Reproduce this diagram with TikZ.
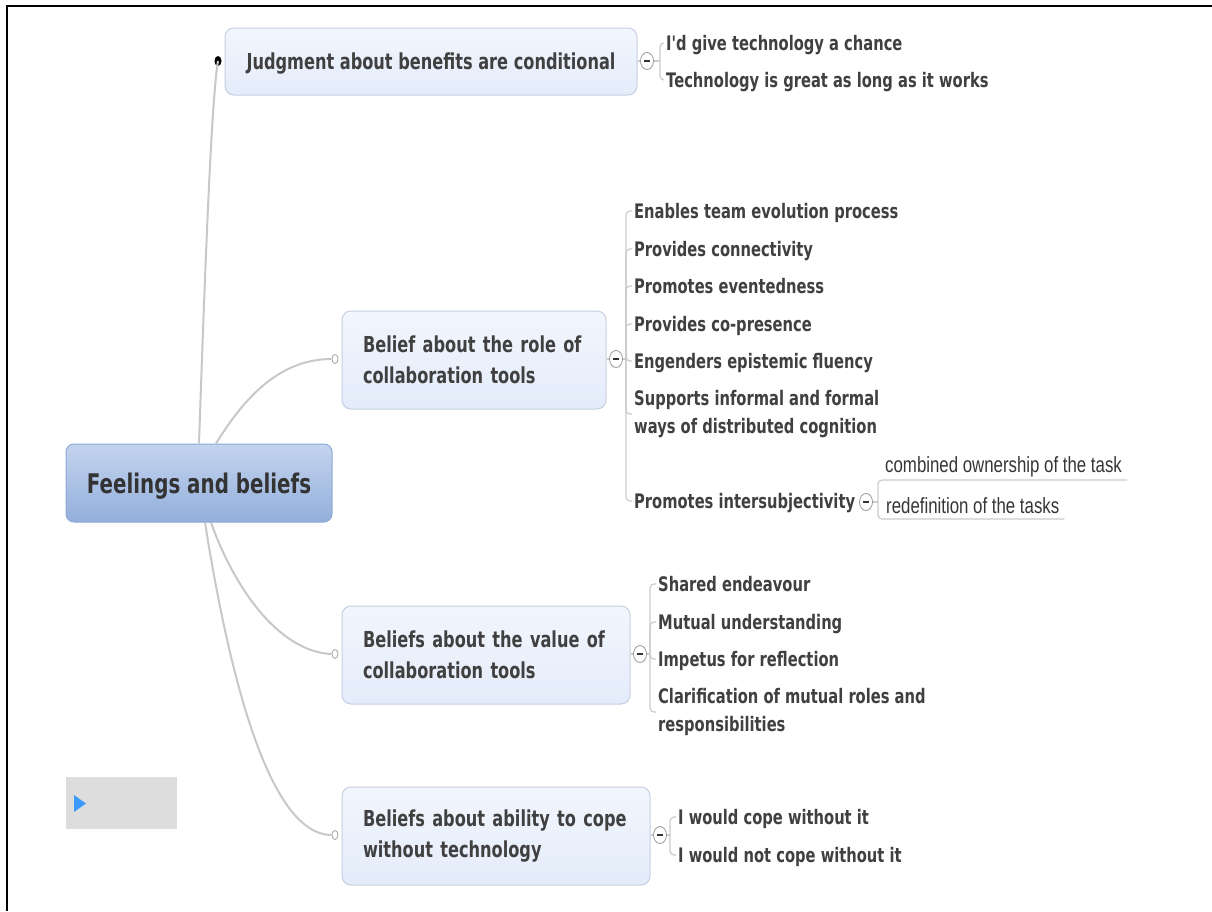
\documentclass[tikz,border=0pt]{standalone}
\usepackage{fontspec}
\usetikzlibrary{shapes.geometric,calc}
\newfontfamily\topicfont[FakeStretch=0.735]{DejaVu Sans}
\newfontfamily\notefont[FakeStretch=0.765]{Liberation Sans}

\definecolor{ink}{HTML}{404040}
\definecolor{branch}{HTML}{C8C8C8}
\definecolor{bracecol}{HTML}{CBCBCB}
\definecolor{boxedge}{HTML}{C6D0E2}
\definecolor{boxtop}{HTML}{F2F6FD}
\definecolor{boxbot}{HTML}{E4ECFA}
\definecolor{roottop}{HTML}{C4D4EE}
\definecolor{rootbot}{HTML}{93AFDC}
\definecolor{rootedge}{HTML}{8FA8D3}
\definecolor{panel}{HTML}{DDDDDD}
\definecolor{play}{HTML}{3C9AFF}

\begin{document}
\begin{tikzpicture}[x=1pt,y=-1pt,
  root/.style={draw=rootedge, line width=1, rounded corners=8, top color=roottop, bottom color=rootbot,
    minimum width=266, minimum height=78, inner sep=0, text height=24, text depth=4,
    font=\topicfont\bfseries\fontsize{27}{32}\selectfont, text=ink!80!black},
  topic/.style={draw=boxedge, line width=1, rounded corners=9, top color=boxtop, bottom color=boxbot,
    minimum height=98, inner xsep=21, align=left,
    font=\topicfont\bfseries\fontsize{22}{31}\selectfont, text=ink},
  leaf/.style={anchor=west, inner xsep=2, inner ysep=0, align=left,
    font=\topicfont\bfseries\fontsize{20}{28}\selectfont, text=ink},
  oneline/.style={text height=17, text depth=3},
  note/.style={anchor=west, inner sep=0, text height=18, text depth=3,
    font=\notefont\fontsize{22}{26}\selectfont, text=ink!85!black},
  branchline/.style={draw=branch, line width=2},
  bracket/.style={draw=bracecol, line width=1.2, rounded corners=4},
  fold/.style={ellipse, draw=black!40, fill=white, line width=0.8, minimum width=13, minimum height=17, inner sep=0,
    path picture={\draw[black!80, line width=1.5]
      ([xshift=-2.7]path picture bounding box.center) -- ([xshift=2.7]path picture bounding box.center);}},
  port/.style={ellipse, draw=black!35, fill=white, line width=0.8, minimum width=6, minimum height=9, inner sep=0},
  dot/.style={ellipse, fill=black, minimum width=7, minimum height=10, inner sep=0},
]
\useasboundingbox (0,0) rectangle (1212,911);
\fill[white] (0,0) rectangle (1212,911);

% page frame (left and top edges)
\draw[line width=2] (7,911) -- (7,5.8) -- (1212,5.8);

% central topic
\node[root] (root) at (199,483) {Feelings and beliefs};

% main topics
\node[topic, minimum width=412, minimum height=67, inner xsep=17, text height=19, text depth=3] (t1) at (431,61.5) {Judgment about benefits are conditional};
\node[topic, text width=222] (t2) at (474,360) {Belief about the role of\\collaboration tools};
\node[topic, text width=246] (t3) at (486,655) {Beliefs about the value of\\collaboration tools};
\node[topic, text width=266] (t4) at (496,836) {Beliefs about ability to cope\\without technology};

% attachment points on the left of the topics
\node[dot]  (d1) at (218,61) {};
\node[port] (p2) at (335,359) {};
\node[port] (p3) at (335,654) {};
\node[port] (p4) at (335,835) {};

% branches from the central topic
\draw[branchline] (root.north) .. controls (204,300) and (211,100) .. (d1.center);
\draw[branchline] ([xshift=17]root.north) .. controls (240,405) and (275,359) .. (p2.west);
\draw[branchline] ([xshift=12]root.south) .. controls (235,590) and (280,652) .. (p3.west);
\draw[branchline] ([xshift=6]root.south) .. controls (230,680) and (270,835) .. (p4.west);

% collapse buttons
\node[fold] (f1) at (647,61) {};
\node[fold] (f2) at (616,359) {};
\node[fold] (f3) at (640,654) {};
\node[fold] (f4) at (660,835) {};

\foreach \t/\f in {t1/f1,t2/f2,t3/f3,t4/f4}
  \draw[bracket] (\t.east |- \f.west) -- (\f.west);

% subtopics: judgment
\node[leaf, oneline] (a1) at (664,43) {I'd give technology a chance};
\node[leaf, oneline] (a2) at (664,80) {Technology is great as long as it works};
\coordinate (v1) at (660,61);
\draw[bracket] (f1.east) -- (v1);
\foreach \n in {a1,a2} \draw[bracket] (v1) |- (\n.west);

% subtopics: role of collaboration tools
\node[leaf, oneline] (b1) at (632,211) {Enables team evolution process};
\node[leaf, oneline] (b2) at (632,249) {Provides connectivity};
\node[leaf, oneline] (b3) at (632,286) {Promotes eventedness};
\node[leaf, oneline] (b4) at (632,324) {Provides co-presence};
\node[leaf, oneline] (b5) at (632,361) {Engenders epistemic fluency};
\node[leaf] (b6) at (632,414) {Supports informal and formal\\ways of distributed cognition};
\node[leaf, oneline] (b7) at (632,501) {Promotes intersubjectivity};
\coordinate (v2) at (626,359);
\draw[bracket] (f2.east) -- (v2);
\foreach \n in {b1,b2,b3,b4,b5,b6,b7} \draw[bracket] (v2) |- (\n.west);

% intersubjectivity details
\node[fold] (f5) at (866,502) {};
\node[note] (n1) at (885,465) {combined ownership of the task};
\node[note] (n2) at (886,506) {redefinition of the tasks};
\coordinate (v5) at (878,502);
\draw[bracket] (f5.east) -- (v5);
\draw[bracket] (v5) |- ($(n1.east)+(5,15)$);
\draw[bracket] (v5) |- ($(n2.east)+(5,13)$);

% subtopics: value of collaboration tools
\node[leaf, oneline] (c1) at (656,584) {Shared endeavour};
\node[leaf, oneline] (c2) at (656,622) {Mutual understanding};
\node[leaf, oneline] (c3) at (656,659) {Impetus for reflection};
\node[leaf] (c4) at (656,712) {Clarification of mutual roles and\\responsibilities};
\coordinate (v3) at (650,654);
\draw[bracket] (f3.east) -- (v3);
\foreach \n in {c1,c2,c3,c4} \draw[bracket] (v3) |- (\n.west);

% subtopics: coping without technology
\node[leaf, oneline] (e1) at (676,817) {I would cope without it};
\node[leaf, oneline] (e2) at (676,855) {I would not cope without it};
\coordinate (v4) at (670,835);
\draw[bracket] (f4.east) -- (v4);
\foreach \n in {e1,e2} \draw[bracket] (v4) |- (\n.west);

% player panel
\fill[panel] (66,777) rectangle (177,829);
\fill[play] (74,795) -- (86,803.5) -- (74,812) -- cycle;
\end{tikzpicture}
\end{document}
